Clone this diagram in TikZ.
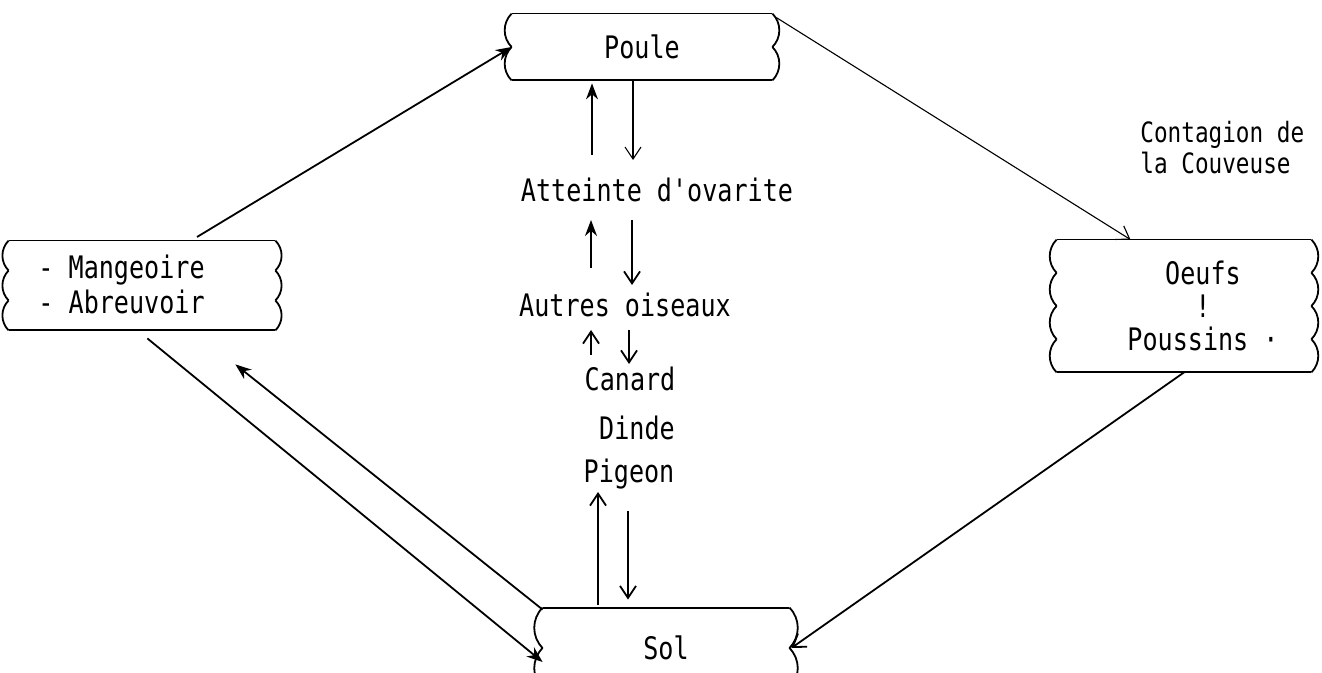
\documentclass[tikz,border=0pt]{standalone}
\usepackage{fontspec}
\setmainfont[FakeStretch=0.81,Ligatures=TeXReset]{DejaVu Sans Mono}
\usetikzlibrary{arrows.meta,calc}
\tikzset{
  wb/.style={draw=none,inner sep=0pt,font=\fontsize{15.5}{15.5}\selectfont,align=center},
  lbl/.style={inner sep=0pt,font=\fontsize{15.5}{15.5}\selectfont,align=left},
  boxline/.style={line width=0.9pt},
  conn/.style={line width=0.9pt},
  thin conn/.style={line width=0.55pt},
  filled head/.style={-{Stealth[length=8pt,width=6pt]}},
  open head/.style={-{Straight Barb[length=6pt,width=8pt]}},
}
\newcommand\wavyframe[2]{%
  \draw[boxline] (#1.north west) -- (#1.north east) (#1.south west) -- (#1.south east);
  \foreach \i in {1,...,#2}{%
    \pgfmathsetmacro\fa{(\i-1)/#2}\pgfmathsetmacro\fb{\i/#2}%
    \draw[boxline] ($(#1.north west)!\fa!(#1.south west)$) to[bend right=45] ($(#1.north west)!\fb!(#1.south west)$);
    \draw[boxline] ($(#1.north east)!\fa!(#1.south east)$) to[bend left=45] ($(#1.north east)!\fb!(#1.south east)$);
  }%
}
\begin{document}
\begin{tikzpicture}[x=0.5pt,y=-0.5pt]
\useasboundingbox (0,0) rectangle (1322,673);
\clip (0,0) rectangle (1322,673);
% boxes
\node[wb,minimum width=130pt,minimum height=33pt] (poule) at (642,47) {Poule};
\node[wb,minimum width=133pt,minimum height=44.5pt] (mang) at (142,285.5) {};
\node[lbl,anchor=west] (mangt) at (38,284) {- Mangeoire\\[2pt]- Abreuvoir};
\node[wb,minimum width=127pt,minimum height=66pt] (oeufs) at (1184,306) {};
\node[lbl,align=center] (oeufst) at (1203,306) {Oeufs\\[1pt]!\\[1pt]Poussins ·};
\node[wb,minimum width=123pt,minimum height=40pt] (sol) at (666,648) {Sol};
\wavyframe{poule}{2}
\wavyframe{mang}{3}
\wavyframe{oeufs}{4}
\wavyframe{sol}{2}
% labels
\node[lbl] (att) at (657,190) {Atteinte d\char39 ovarite};
\node[lbl] (autres) at (625,305) {Autres oiseaux};
\node[lbl] (canard) at (630,379) {Canard};
\node[lbl] (dinde) at (637,428) {Dinde};
\node[lbl] (pigeon) at (629,474) {Pigeon};
\node[lbl,anchor=north west,font=\fontsize{14}{15.5}\selectfont] (cont) at (1140,121) {Contagion de\\la Couveuse};
% outer connectors
\draw[conn,filled head] (197,237) coordinate (m1) -- (poule.west);
\draw[thin conn,open head] (poule.north east) ++(4,4) -- ($(oeufs.north west)!0.29!(oeufs.north east)$);
\draw[conn,open head] ($(oeufs.south west)!0.5!(oeufs.south east)$) -- ([xshift=1pt]sol.east);
\draw[conn,filled head] ($(mang.south west)!0.52!(mang.south east)$) ++(0,8) -- ($(sol.west)+(0,14)$);
\draw[conn,filled head] ($(sol.north west)+(0,2)$) -- ($(mang.south west)!0.85!(mang.south east)+(0,34)$);
% vertical connectors
\draw[thin conn,filled head] ($(att)+(-65,-35)$) -- ($(poule.south -| 592,0)+(0,3)$);
\draw[thin conn,open head] (poule.south -| 633,0) -- ($(att)+(-24,-30)$);
\draw[conn,filled head] ($(autres)+(-34,-37)$) -- ($(att)+(-66,30)$);
\draw[conn,open head] ($(att)+(-25,30)$) -- ($(autres)+(7,-20)$);
\draw[conn,open head] ($(canard)+(-39,-24)$) -- ($(autres)+(-34,25)$);
\draw[conn,open head] ($(autres)+(4,25)$) -- ($(canard)+(-1,-15)$);
\draw[conn,open head] (sol.north -| 598,0) ++(0,-3) -- ($(pigeon)+(-31,18)$);
\draw[conn,open head] ($(pigeon)+(-1,37)$) -- ($(sol.north -| 628,0)+(0,-8)$);
\end{tikzpicture}
\end{document}
